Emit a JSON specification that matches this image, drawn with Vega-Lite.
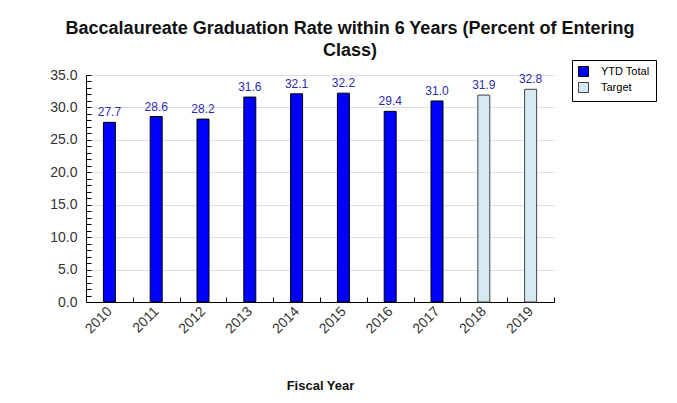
{
  "$schema": "https://vega.github.io/schema/vega-lite/v6.json",
  "width": 468,
  "height": 227,
  "autosize": {"type": "none"},
  "padding": {"left": 86, "top": 75, "right": 123, "bottom": 101},
  "background": "white",
  "title": {
    "text": ["Baccalaureate Graduation Rate within 6 Years (Percent of Entering", "Class)"],
    "font": "Liberation Sans",
    "fontSize": 18,
    "fontWeight": "bold",
    "color": "#111111",
    "anchor": "middle",
    "dx": 30,
    "offset": 0,
    "lineHeight": 22
  },
  "data": {
    "values": [
      {"year": "2010", "value": 27.7, "series": "YTD Total"},
      {"year": "2011", "value": 28.6, "series": "YTD Total"},
      {"year": "2012", "value": 28.2, "series": "YTD Total"},
      {"year": "2013", "value": 31.6, "series": "YTD Total"},
      {"year": "2014", "value": 32.1, "series": "YTD Total"},
      {"year": "2015", "value": 32.2, "series": "YTD Total"},
      {"year": "2016", "value": 29.4, "series": "YTD Total"},
      {"year": "2017", "value": 31.0, "series": "YTD Total"},
      {"year": "2018", "value": 31.9, "series": "Target"},
      {"year": "2019", "value": 32.8, "series": "Target"}
    ]
  },
  "encoding": {
    "x": {
      "field": "year",
      "type": "ordinal",
      "title": "Fiscal Year",
      "scale": {"paddingInner": 0, "paddingOuter": 0},
      "axis": {
        "labelAngle": -45,
        "labelAlign": "right",
        "labelBaseline": "middle",
        "labelFont": "Liberation Sans",
        "labelFontSize": 14,
        "labelColor": "#333333",
        "labelPadding": 12,
        "tickBand": "extent",
        "tickSize": -5,
        "tickColor": "#000000",
        "domainColor": "#000000",
        "titleFont": "Liberation Sans",
        "titleFontSize": 13,
        "titleFontWeight": "bold",
        "titleColor": "#111111",
        "titlePadding": 44
      }
    },
    "y": {
      "field": "value",
      "type": "quantitative",
      "title": null,
      "scale": {"domain": [0, 35], "nice": false},
      "axis": {
        "values": [0,1,2,3,4,5,6,7,8,9,10,11,12,13,14,15,16,17,18,19,20,21,22,23,24,25,26,27,28,29,30,31,32,33,34,35],
        "format": ".1f",
        "labelExpr": "datum.value % 5 === 0 ? datum.label : ''",
        "labelFont": "Liberation Sans",
        "labelFontSize": 14,
        "labelColor": "#333333",
        "tickSize": -5,
        "labelPadding": 14,
        "tickColor": "#000000",
        "domainColor": "#000000",
        "grid": true,
        "gridColor": "#dddddd",
        "gridOpacity": {"condition": {"test": "datum.value % 5 === 0", "value": 1}, "value": 0}
      }
    }
  },
  "layer": [
    {
      "mark": {"type": "bar", "size": 12, "strokeWidth": 1},
      "encoding": {
        "color": {
          "field": "series",
          "type": "nominal",
          "scale": {"domain": ["YTD Total", "Target"], "range": ["#0000ff", "#d6eaf3"]},
          "legend": {
            "title": null,
            "orient": "none",
            "legendX": 486,
            "legendY": -15,
            "symbolType": "square",
            "symbolSize": 100,
            "symbolStrokeColor": "#000000",
            "symbolStrokeWidth": 1,
            "symbolOpacity": 1,
            "labelFont": "Liberation Sans",
            "labelFontSize": 11,
            "labelOffset": 12,
            "labelColor": "#000000",
            "strokeColor": "#000000",
            "fillColor": "white",
            "padding": 6,
            "rowPadding": 1
          }
        },
        "stroke": {
          "field": "series",
          "type": "nominal",
          "scale": {"domain": ["YTD Total", "Target"], "range": ["#000000", "#444444"]},
          "legend": null
        }
      }
    },
    {
      "mark": {"type": "text", "baseline": "bottom", "dy": -3, "font": "Liberation Sans", "fontSize": 12, "color": "#2b2bb0"},
      "encoding": {
        "text": {"field": "value", "type": "quantitative", "format": ".1f"}
      }
    }
  ],
  "config": {
    "view": {"stroke": null}
  }
}
